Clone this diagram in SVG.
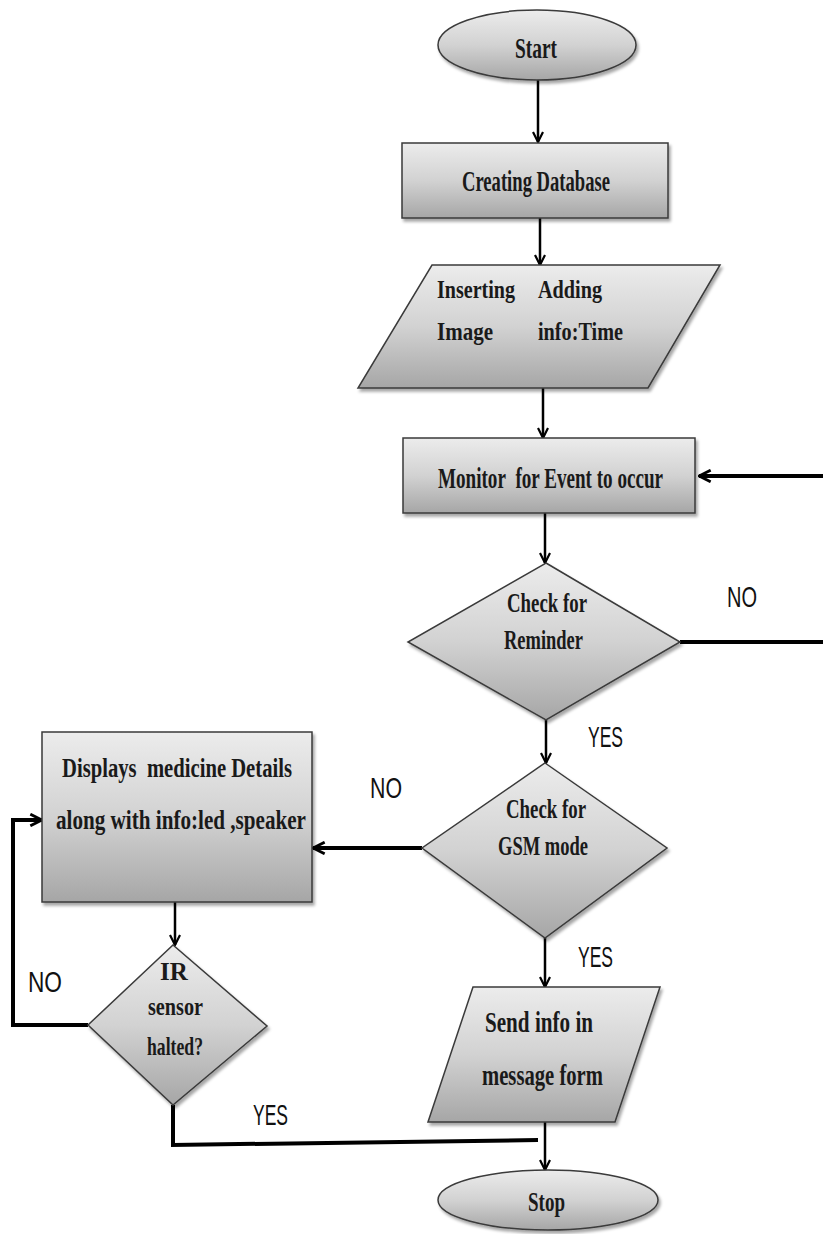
<svg xmlns="http://www.w3.org/2000/svg" width="823" height="1234" viewBox="0 0 823 1234">
<defs>
<linearGradient id="g" x1="0" y1="0" x2="0" y2="1">
<stop offset="0" stop-color="#ececec"/>
<stop offset="0.5" stop-color="#d2d2d2"/>
<stop offset="1" stop-color="#a6a6a6"/>
</linearGradient>
<filter id="sh" x="-10%" y="-10%" width="130%" height="130%">
<feDropShadow dx="2" dy="3" stdDeviation="1.5" flood-color="#000" flood-opacity="0.35"/>
</filter>
<marker id="ar" viewBox="0 0 12 12" refX="11" refY="6" markerWidth="12" markerHeight="12" markerUnits="userSpaceOnUse" orient="auto">
<path d="M1,1 L11,6 L1,11" fill="none" stroke="#000" stroke-width="2.2"/>
</marker>
<marker id="arB" viewBox="0 0 12 12" refX="11" refY="6" markerWidth="14" markerHeight="14" markerUnits="userSpaceOnUse" orient="auto">
<path d="M1,1 L11,6 L1,11" fill="none" stroke="#000" stroke-width="2.4"/>
</marker>
</defs>
<style>
.s{fill:url(#g);stroke:#3a3a3a;stroke-width:1.5;filter:url(#sh)}
.t{font-family:"Liberation Serif",serif;font-weight:bold;fill:#1a1a1a}
.l{font-family:"Liberation Sans",sans-serif;fill:#111}
.c{fill:none;stroke:#000;stroke-width:2.5}
.k{fill:none;stroke:#000;stroke-width:4}
</style>
<g id="connectors">
<path class="c" d="M538,80 V142" marker-end="url(#ar)"/>
<path class="c" d="M540,218 V265" marker-end="url(#ar)"/>
<path class="c" d="M543,388 V438" marker-end="url(#ar)"/>
<path class="c" d="M545,513 V563" marker-end="url(#ar)"/>
<path class="k" d="M680,642 H828 V476 H699" marker-end="url(#arB)"/>
<path class="c" d="M546,720 V763" marker-end="url(#ar)"/>
<path class="k" d="M422,848 H313" marker-end="url(#arB)"/>
<path class="c" d="M545,938 V987" marker-end="url(#ar)"/>
<path class="c" d="M175,902 V945" marker-end="url(#ar)"/>
<path class="k" d="M88,1025 H13 V820 H42" marker-end="url(#arB)"/>
<path class="k" d="M173,1105 V1145 L538,1140"/>
<path class="c" d="M545,1122 V1170" marker-end="url(#ar)"/>
</g>
<g id="start">
<ellipse class="s" cx="537" cy="45" rx="99" ry="35"/>
<text class="t" x="515" y="58" font-size="29" textLength="42" lengthAdjust="spacingAndGlyphs">Start</text>
</g>
<g id="create-db">
<rect class="s" x="402" y="143" width="266" height="75"/>
<text class="t" x="462" y="191" font-size="30" textLength="148" lengthAdjust="spacingAndGlyphs">Creating Database</text>
</g>
<g id="insert">
<polygon class="s" points="432,265 720,265 648,388 358,388"/>
<text class="t" x="437" y="298" font-size="26" textLength="78" lengthAdjust="spacingAndGlyphs">Inserting</text>
<text class="t" x="538" y="298" font-size="26" textLength="64" lengthAdjust="spacingAndGlyphs">Adding</text>
<text class="t" x="437" y="340" font-size="26" textLength="56" lengthAdjust="spacingAndGlyphs">Image</text>
<text class="t" x="538" y="340" font-size="26" textLength="85" lengthAdjust="spacingAndGlyphs">info:Time</text>
</g>
<g id="monitor">
<rect class="s" x="403" y="438" width="292" height="75"/>
<text class="t" x="438" y="488" font-size="30" textLength="225" lengthAdjust="spacingAndGlyphs">Monitor&#160; for Event to occur</text>
</g>
<g id="reminder">
<polygon class="s" points="546,563 680,642 546,720 408,642"/>
<text class="t" x="507" y="612" font-size="27" textLength="80" lengthAdjust="spacingAndGlyphs">Check for</text>
<text class="t" x="504" y="649" font-size="27" textLength="79" lengthAdjust="spacingAndGlyphs">Reminder</text>
</g>
<g id="gsm">
<polygon class="s" points="545,763 667,848 545,938 422,848"/>
<text class="t" x="506" y="818" font-size="27" textLength="80" lengthAdjust="spacingAndGlyphs">Check for</text>
<text class="t" x="498" y="855" font-size="27" textLength="90" lengthAdjust="spacingAndGlyphs">GSM mode</text>
</g>
<g id="display">
<rect class="s" x="42" y="732" width="270" height="170"/>
<text class="t" x="62" y="777" font-size="27" textLength="230" lengthAdjust="spacingAndGlyphs">Displays&#160; medicine Details</text>
<text class="t" x="56" y="829" font-size="28" textLength="250" lengthAdjust="spacingAndGlyphs">along with info:led ,speaker</text>
</g>
<g id="ir">
<polygon class="s" points="173,945 267,1026 173,1105 88,1025"/>
<text class="t" x="174" y="980" font-size="25" text-anchor="middle">IR</text>
<text class="t" x="148" y="1015" font-size="26" textLength="55" lengthAdjust="spacingAndGlyphs">sensor</text>
<text class="t" x="147" y="1055" font-size="26" textLength="56" lengthAdjust="spacingAndGlyphs">halted?</text>
</g>
<g id="send">
<polygon class="s" points="473,987 660,987 615,1122 428,1122"/>
<text class="t" x="485" y="1032" font-size="29" textLength="108" lengthAdjust="spacingAndGlyphs">Send info in</text>
<text class="t" x="482" y="1085" font-size="29" textLength="121" lengthAdjust="spacingAndGlyphs">message form</text>
</g>
<g id="stop">
<ellipse class="s" cx="548" cy="1200" rx="110" ry="30"/>
<text class="t" x="528" y="1211" font-size="27" textLength="37" lengthAdjust="spacingAndGlyphs">Stop</text>
</g>
<g id="labels">
<text class="l" x="727" y="607" font-size="30" textLength="30" lengthAdjust="spacingAndGlyphs">NO</text>
<text class="l" x="588" y="747" font-size="30" textLength="35" lengthAdjust="spacingAndGlyphs">YES</text>
<text class="l" x="370" y="798" font-size="30" textLength="32" lengthAdjust="spacingAndGlyphs">NO</text>
<text class="l" x="578" y="967" font-size="30" textLength="35" lengthAdjust="spacingAndGlyphs">YES</text>
<text class="l" x="28" y="992" font-size="30" textLength="34" lengthAdjust="spacingAndGlyphs">NO</text>
<text class="l" x="253" y="1125" font-size="30" textLength="35" lengthAdjust="spacingAndGlyphs">YES</text>
</g>
</svg>
